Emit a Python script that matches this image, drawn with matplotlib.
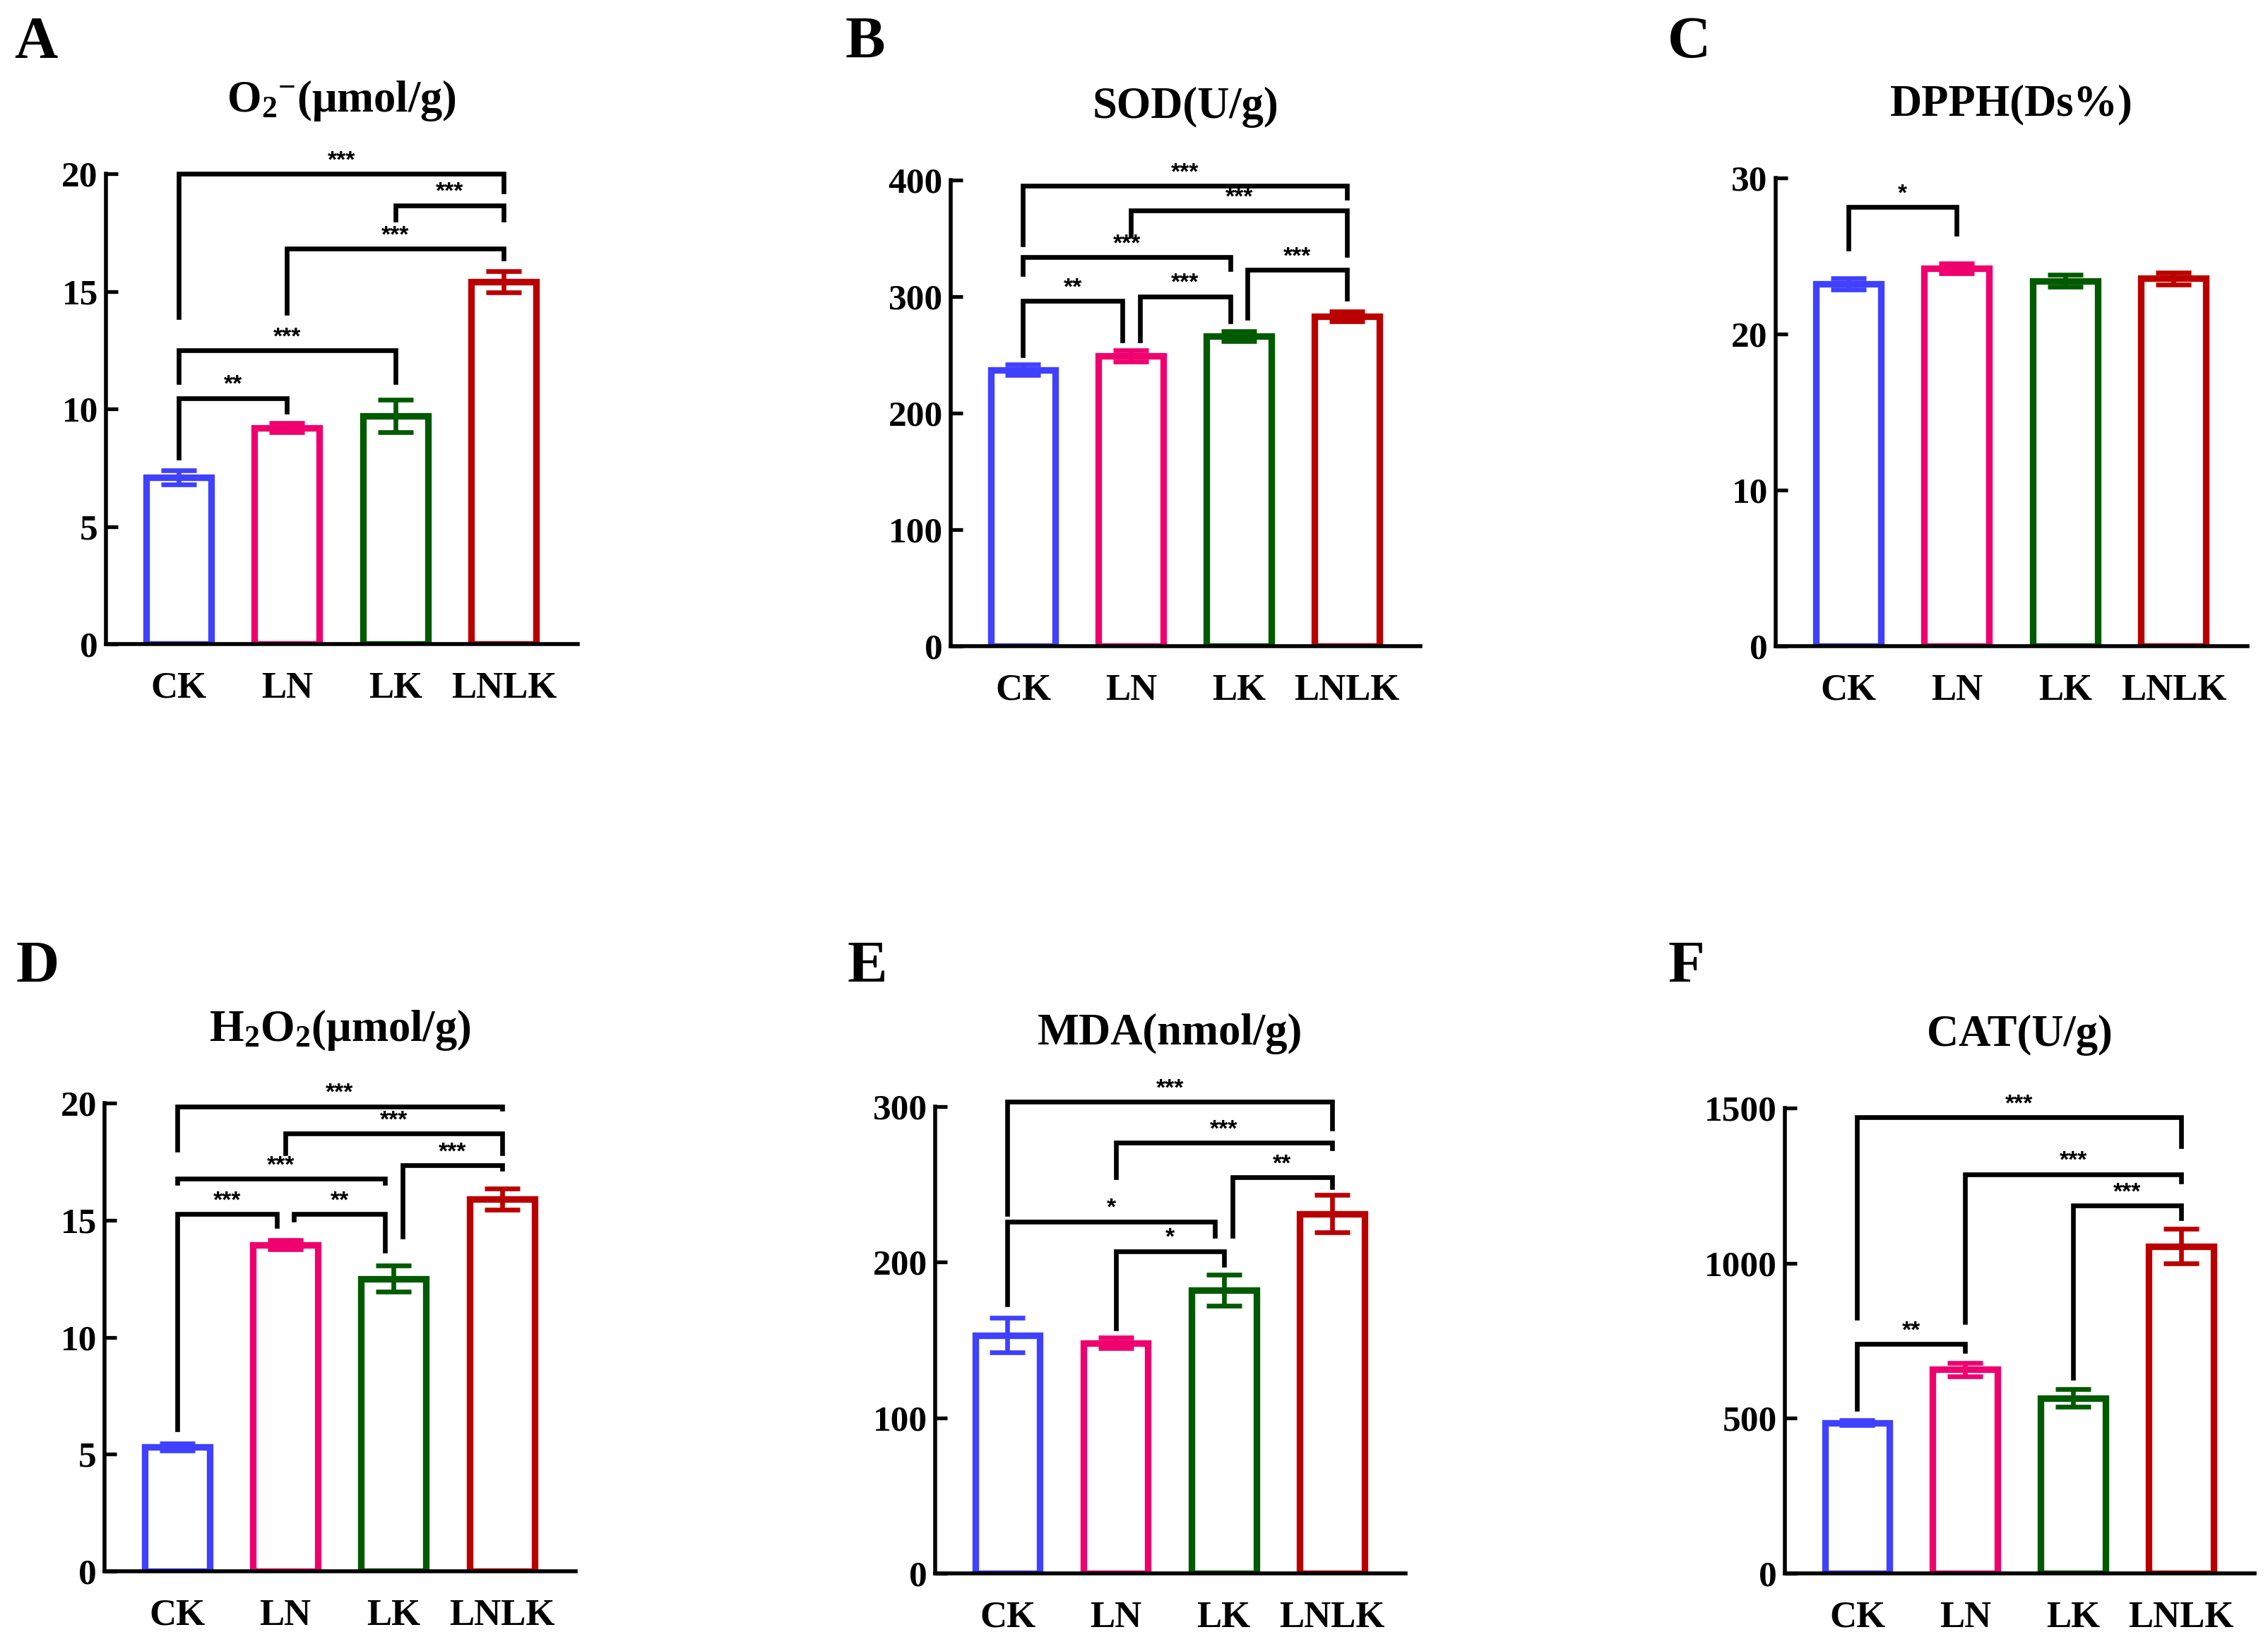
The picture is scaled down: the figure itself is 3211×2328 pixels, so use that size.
import matplotlib
matplotlib.use('Agg')
import matplotlib.pyplot as plt

plt.rcParams['font.family'] = ['Liberation Serif', 'DejaVu Serif']
plt.rcParams['font.weight'] = 'bold'
plt.rcParams['mathtext.fontset'] = 'custom'
plt.rcParams['mathtext.rm'] = 'Liberation Serif:bold'
plt.rcParams['mathtext.it'] = 'Liberation Serif:bold'
plt.rcParams['mathtext.bf'] = 'Liberation Serif:bold'

# data
groups = ['CK', 'LN', 'LK', 'LNLK']
colors = ['#4040FF', '#F0006E', '#005A00', '#BB0000']

o2_mean = [7.1, 9.2, 9.7, 15.4]
o2_err = [0.3, 0.2, 0.7, 0.45]
sod_mean = [237, 249, 266, 283]
sod_err = [4.5, 5, 4, 4]
dpph_mean = [23.2, 24.2, 23.4, 23.55]
dpph_err = [0.35, 0.33, 0.38, 0.38]
h2o2_mean = [5.3, 13.95, 12.5, 15.9]
h2o2_err = [0.15, 0.2, 0.56, 0.44]
mda_mean = [153, 148, 182, 231]
mda_err = [11, 3.5, 10, 12]
cat_mean = [485, 657, 565, 1055]
cat_err = [8, 22, 28, 55]

# brackets: (left group, right group, height, left leg end, right leg end, stars, left shift, right shift)
o2_sig = [(0, 3, 20.0, 13.9, 19.25, '***', 0, 0),
          (2, 3, 18.67, 18.07, 18.07, '***', 0, 0),
          (1, 3, 16.82, 14.1, 16.4, '***', 0, 0),
          (0, 2, 12.5, 11.16, 11.16, '***', 0, 0),
          (0, 1, 10.47, 7.93, 9.9, '**', 0, 0)]
sod_sig = [(0, 3, 395, 345, 385, '***', 0, 0),
           (1, 3, 373.6, 352.6, 336, '***', 0, 0),
           (0, 2, 333.6, 319.6, 323.5, '***', 0, -1),
           (2, 3, 322.7, 281.6, 298.3, '***', 1, 0),
           (0, 1, 296.3, 249.7, 262.5, '**', 0, -1),
           (1, 2, 300.2, 262.5, 278.8, '***', 1, -1)]
dpph_sig = [(0, 1, 28.14, 25.45, 26.4, '*', 0, 0)]
h2o2_sig = [(0, 3, 19.86, 18.01, 19.76, '***', 0, 0),
            (1, 3, 18.7, 17.87, 17.87, '***', 0, 0),
            (2, 3, 17.35, 14.29, 17.21, '***', 1, 0),
            (0, 2, 16.76, 16.58, 16.58, '***', 0, -1),
            (0, 1, 15.26, 6.07, 14.75, '***', 0, -1),
            (1, 2, 15.26, 15.04, 13.69, '**', 1, -1)]
mda_sig = [(0, 3, 303, 231, 285.7, '***', 0, 0),
           (1, 3, 276.7, 254.3, 273.1, '***', 0, 0),
           (2, 3, 254.3, 216.9, 248.3, '**', 1, 0),
           (0, 2, 226.1, 172.9, 216.9, '*', 0, -1),
           (1, 2, 207, 157.3, 198.3, '*', 0, 0)]
cat_sig = [(0, 3, 1470, 825, 1377, '***', 0, 0),
           (1, 3, 1287, 810, 1264, '***', 0, 0),
           (2, 3, 1185, 630, 1144, '***', 0, 0),
           (0, 1, 739.5, 529.5, 717, '**', 0, 0)]

panels = [
    ('A', r'O$_2$$^{-}$(μmol/g)', o2_mean, o2_err, [0, 5, 10, 15, 20], o2_sig),
    ('B', 'SOD(U/g)', sod_mean, sod_err, [0, 100, 200, 300, 400], sod_sig),
    ('C', 'DPPH(Ds%)', dpph_mean, dpph_err, [0, 10, 20, 30], dpph_sig),
    ('D', r'H$_2$O$_2$(μmol/g)', h2o2_mean, h2o2_err, [0, 5, 10, 15, 20], h2o2_sig),
    ('E', 'MDA(nmol/g)', mda_mean, mda_err, [0, 100, 200, 300], mda_sig),
    ('F', 'CAT(U/g)', cat_mean, cat_err, [0, 500, 1000, 1500], cat_sig),
]

boxes = [[0.0467, 0.6082, 0.2080, 0.2860],
         [0.4192, 0.6070, 0.2071, 0.2835],
         [0.7829, 0.6070, 0.2080, 0.2848],
         [0.0461, 0.0442, 0.2077, 0.2848],
         [0.4123, 0.0430, 0.2074, 0.2840],
         [0.7870, 0.0430, 0.2071, 0.2830]]
letter_pos = [(0.0062, 0.9648), (0.3725, 0.9648), (0.7353, 0.9648),
              (0.0069, 0.4025), (0.3737, 0.4025), (0.7356, 0.4025)]

fig = plt.figure(figsize=(32.11, 23.28), dpi=100)
x = list(range(len(groups)))
shift = 0.08

for (letter, title, mean, err, ticks, sig), box, lp in zip(panels, boxes, letter_pos):
    ax = fig.add_axes(box)
    bars = ax.bar(x, mean, width=0.6, color='white', edgecolor=colors, linewidth=6.7, zorder=2)
    for b in bars:
        b.set_joinstyle('miter')
    for i in x:
        ax.errorbar(i, mean[i], yerr=err[i], color=colors[i], elinewidth=4.8,
                    capsize=18, capthick=4.8, zorder=3)
    ax.set_xlim(-0.67, 3.68)
    ax.set_ylim(0, ticks[-1])
    ax.set_yticks(ticks)
    ax.set_xticks(x)
    ax.set_xticklabels(groups, fontsize=38, fontweight='bold')
    ax.tick_params(axis='y', direction='in', length=12, width=3.8, labelsize=37, pad=8)
    ax.tick_params(axis='x', length=0, pad=28)
    for lab in ax.get_yticklabels():
        lab.set_fontweight('bold')
    for s in ['top', 'right']:
        ax.spines[s].set_visible(False)
    for s in ['left', 'bottom']:
        ax.spines[s].set_linewidth(4)
        ax.spines[s].set_zorder(4)
    ax.text(0.5, 1.133, title, transform=ax.transAxes, ha='center', va='baseline',
            fontsize=45, fontweight='bold')
    fig.text(lp[0], lp[1], letter, ha='left', va='baseline', fontsize=61, fontweight='bold')

    for (i, j, y, yl, yr, stars, sl, sr) in sig:
        x1 = i + sl * shift
        x2 = j + sr * shift
        ax.plot([x1, x1, x2, x2], [yl, y, y, yr], color='black', lw=4.8,
                solid_joinstyle='miter', clip_on=False, zorder=5)
        ax.annotate(stars, xy=((x1 + x2) / 2, y), xytext=(0, 2), textcoords='offset points',
                    ha='center', va='bottom', fontsize=24, fontweight='bold',
                    family=['Liberation Sans', 'DejaVu Sans'], annotation_clip=False)

fig.savefig('out.png', dpi=100, facecolor='white')
